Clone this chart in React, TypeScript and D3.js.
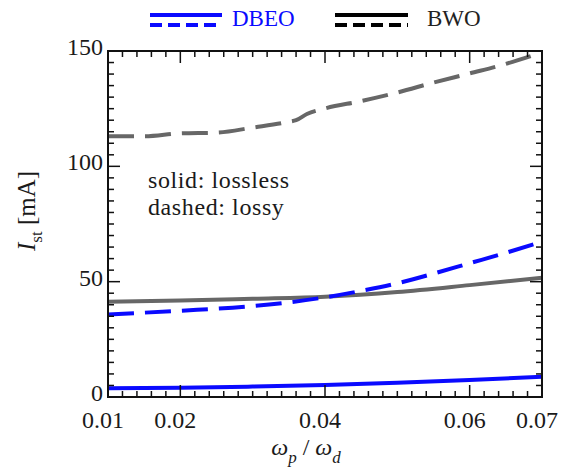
import React from "react";
import * as d3 from "d3";

const W = 572;
const H = 470;

// x tick labels & y ticks
const xTickValues = [0.01, 0.02, 0.04, 0.06, 0.07];
const xMajorTicks = [0.02, 0.04, 0.06];
const yTickValues = [0, 50, 100, 150];

// BWO lossy (gray dashed)
const bwoLossyX = [0.01, 0.015, 0.02, 0.025, 0.03, 0.035, 0.036, 0.0375, 0.04, 0.045, 0.05, 0.055, 0.06, 0.065, 0.07];
const bwoLossyY = [113, 113, 114.3, 114.6, 116.8, 119.3, 120, 122.7, 125.1, 128.3, 132, 136.3, 140.3, 144.4, 149.4];

// BWO lossless (gray solid)
const bwoLosslessX = [0.01, 0.02, 0.03, 0.04, 0.05, 0.06, 0.07];
const bwoLosslessY = [41.3, 41.8, 42.6, 43.5, 45.5, 48.5, 51.7];

// DBEO lossy (blue dashed)
const dbeoLossyX = [0.01, 0.02, 0.03, 0.04, 0.045, 0.05, 0.055, 0.06, 0.065, 0.07];
const dbeoLossyY = [35.8, 37.4, 39.4, 43.2, 46, 49.3, 53.5, 58, 62.5, 67.3];

// DBEO lossless (blue solid)
const dbeoLosslessX = [0.01, 0.02, 0.03, 0.04, 0.05, 0.06, 0.07];
const dbeoLosslessY = [3.8, 4.0, 4.5, 5.2, 6.2, 7.4, 8.8];

const FONT = '"Liberation Serif", Tinos, "Times New Roman", "DejaVu Serif", serif';
const BLUE = "#0a0aff";
const GRAY = "#676767";

export default function App() {
  const left = 108, right = 542, top = 51, bottom = 397;
  const x = d3.scaleLinear().domain([0.01, 0.07]).range([left, right]);
  const y = d3.scaleLinear().domain([0, 150]).range([bottom, top]);

  const mk = (xs: number[], ys: number[]) =>
    d3.line<number>().x((_, i) => x(xs[i])).y((d) => y(d)).curve(d3.curveMonotoneX)(ys) || "";

  const xMinor = d3.range(0.012, 0.0701, 0.002).map((v) => +v.toFixed(3)).filter((v) => !xMajorTicks.includes(v) && v < 0.0699);
  const yMinor = d3.range(5, 150, 5).filter((v) => v % 50 !== 0);
  const yMajor = [50, 100];

  const tickW = 1.5;
  const minorLen = 6;
  const majorLen = 12;
  const ts = { fontFamily: FONT };

  return (
    <svg width={W} height={H} style={{ position: "absolute", left: 0, top: 0, background: "#fff", fontFamily: FONT }}>
      <rect x={0} y={0} width={W} height={H} fill="#fff" />
      {/* data lines */}
      <g fill="none" strokeLinecap="butt" strokeLinejoin="round">
        <path d={mk(bwoLossyX, bwoLossyY)} stroke={GRAY} strokeWidth={4} strokeDasharray="26,11" />
        <path d={mk(bwoLosslessX, bwoLosslessY)} stroke={GRAY} strokeWidth={4} />
        <path d={mk(dbeoLossyX, dbeoLossyY)} stroke={BLUE} strokeWidth={4} strokeDasharray="26,11" />
        <path d={mk(dbeoLosslessX, dbeoLosslessY)} stroke={BLUE} strokeWidth={4} />
      </g>
      {/* ticks */}
      <g stroke="#111" strokeWidth={tickW}>
        {xMinor.map((v) => (
          <g key={"xm" + v}>
            <line x1={x(v)} x2={x(v)} y1={bottom} y2={bottom - minorLen} />
            <line x1={x(v)} x2={x(v)} y1={top} y2={top + minorLen} />
          </g>
        ))}
        {xMajorTicks.map((v) => (
          <g key={"xM" + v}>
            <line x1={x(v)} x2={x(v)} y1={bottom} y2={bottom - majorLen} />
            <line x1={x(v)} x2={x(v)} y1={top} y2={top + majorLen} />
          </g>
        ))}
        {yMinor.map((v) => (
          <g key={"ym" + v}>
            <line x1={left} x2={left + minorLen} y1={y(v)} y2={y(v)} />
            <line x1={right} x2={right - minorLen} y1={y(v)} y2={y(v)} />
          </g>
        ))}
        {yMajor.map((v) => (
          <g key={"yM" + v}>
            <line x1={left} x2={left + majorLen} y1={y(v)} y2={y(v)} />
            <line x1={right} x2={right - majorLen} y1={y(v)} y2={y(v)} />
          </g>
        ))}
      </g>
      <rect x={left} y={top} width={right - left} height={bottom - top} fill="none" stroke="#111" strokeWidth={2} />
      {/* tick labels */}
      <g fontSize={24} fill="#1a1a1a">
        {xTickValues.map((v) => (
          <text key={"xl" + v} style={ts} x={x(v) - 5} y={428} textAnchor="middle">
            {v.toFixed(2)}
          </text>
        ))}
        {yTickValues.map((v) => (
          <text key={"yl" + v} style={ts} x={left - 5} y={y(v) + 4} textAnchor="end">
            {v}
          </text>
        ))}
      </g>
      {/* axis labels */}
      <text style={ts} x={306} y={455} textAnchor="middle" fontSize={24} fill="#1a1a1a">
        <tspan fontStyle="italic">ω</tspan>
        <tspan fontStyle="italic" fontSize={17} dy={8}>p</tspan>
        <tspan dy={-8}> / </tspan>
        <tspan fontStyle="italic">ω</tspan>
        <tspan fontStyle="italic" fontSize={17} dy={8}>d</tspan>
      </text>
      <text style={ts} transform="translate(35,211) rotate(-90)" textAnchor="middle" fontSize={25} fill="#1a1a1a">
        <tspan fontStyle="italic">I</tspan>
        <tspan fontSize={17} dy={7}>st</tspan>
        <tspan dy={-7}>{"  [mA]"}</tspan>
      </text>
      {/* annotation */}
      <g fontSize={24} fill="#1a1a1a" letterSpacing={0.6}>
        <text style={ts} x={148} y={188}>solid: lossless</text>
        <text style={ts} x={148} y={215}>dashed: lossy</text>
      </g>
      {/* legend */}
      <g strokeWidth={4}>
        <line x1={150} x2={222} y1={15} y2={15} stroke={BLUE} />
        <line x1={150} x2={222} y1={25} y2={25} stroke={BLUE} strokeDasharray="12,6" />
        <line x1={335} x2={408} y1={15} y2={15} stroke="#000" />
        <line x1={335} x2={408} y1={25} y2={25} stroke="#000" strokeDasharray="12,6" />
      </g>
      <text style={ts} x={232} y={26} fontSize={23} fill={BLUE}>DBEO</text>
      <text style={ts} x={427} y={26} fontSize={23} fill="#222">BWO</text>
    </svg>
  );
}
